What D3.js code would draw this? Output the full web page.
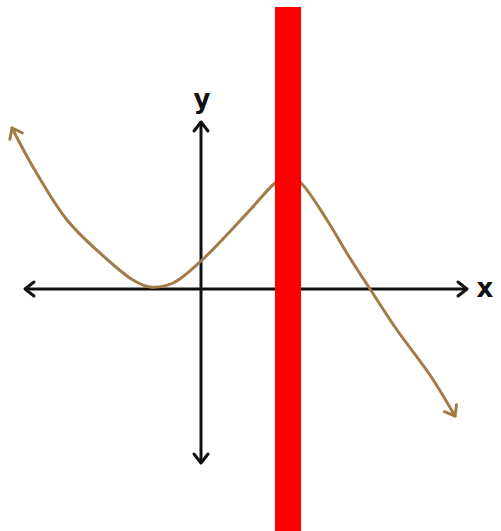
<!DOCTYPE html>
<html>
<head>
<meta charset="utf-8">
<script src="https://cdn.jsdelivr.net/npm/d3@7"></script>
<style>
html, body { margin: 0; padding: 0; background: #fff; }
</style>
</head>
<body>
<div id="canvas-body"></div>
<script>
// curve points (sketch units, origin at the axes crossing)
var curveX = [-3.78, -3.36, -2.68, -2.02, -1.36, -1.02, -0.56, 0, 0.98, 1.48, 1.74, 2.0, 2.52, 2.94, 3.38, 3.92, 4.58, 5.08];
var curveY = [3.22, 2.44, 1.38, 0.72, 0.18, 0.04, 0.12, 0.56, 1.58, 2.12, 2.28, 2.12, 1.38, 0.68, 0, -0.82, -1.72, -2.54];

// axis extents
var xAxisRange = [-3.52, 5.32];
var yAxisRange = [-3.48, 3.34];
var axisLabels = ["x", "y"];

// red band covering the peak
var band = [1.48, 2.0];

// size of svg image
const width = 501, height = 531;

var s = d3.select("#canvas-body")
            .append("svg")
            .attr("width", width)
            .attr("height", height);

// scale from sketch coordinates to svg coordinates
var gtosx = d3.scaleLinear().domain([-4, 6]).range([1, 501]);
var gtosy = d3.scaleLinear().domain([-4, 6]).range([489, -11]);

// arrow markers
var defs = s.append("defs");
function add_marker(id, color){
    defs.append("marker")
        .attr("id", id)
        .attr("viewBox", "-12 -10 16 20")
        .attr("markerWidth", 16)
        .attr("markerHeight", 20)
        .attr("markerUnits", "userSpaceOnUse")
        .attr("refX", 0)
        .attr("refY", 0)
        .attr("orient", "auto-start-reverse")
        .append("path")
        .attr("d", "M-9,-7 L0,0 L-9,7")
        .attr("fill", "none")
        .attr("stroke", color)
        .attr("stroke-width", 3)
        .attr("stroke-linecap", "round")
        .attr("stroke-linejoin", "round");
}
add_marker("arrow-black", "#111");
add_marker("arrow-brown", "#a27b47");

// x axis
s.append("line")
    .attr("x1", gtosx(xAxisRange[0])).attr("x2", gtosx(xAxisRange[1]))
    .attr("y1", gtosy(0)).attr("y2", gtosy(0))
    .attr("stroke", "#111")
    .attr("stroke-width", 3)
    .attr("marker-start", "url(#arrow-black)")
    .attr("marker-end", "url(#arrow-black)");

// y axis
s.append("line")
    .attr("x1", gtosx(0)).attr("x2", gtosx(0))
    .attr("y1", gtosy(yAxisRange[1])).attr("y2", gtosy(yAxisRange[0]))
    .attr("stroke", "#111")
    .attr("stroke-width", 3)
    .attr("marker-start", "url(#arrow-black)")
    .attr("marker-end", "url(#arrow-black)");

// axis labels
s.append("text")
    .attr("x", gtosx(xAxisRange[1]) + 18)
    .attr("y", gtosy(0))
    .attr("dy", "0.3em")
    .attr("text-anchor", "middle")
    .attr("font-family", "DejaVu Sans")
    .attr("font-weight", "bold")
    .attr("font-size", 26)
    .attr("fill", "#111")
    .text(axisLabels[0]);
s.append("text")
    .attr("x", gtosx(0) + 1)
    .attr("y", gtosy(yAxisRange[1]) - 22)
    .attr("dy", "0.3em")
    .attr("text-anchor", "middle")
    .attr("font-family", "DejaVu Sans")
    .attr("font-weight", "bold")
    .attr("font-size", 26)
    .attr("fill", "#111")
    .text(axisLabels[1]);

// the curve
var pts = curveX.map(function(x, i){ return [x, curveY[i]]; });
var linefunc = d3.line()
                .x(function(d){ return gtosx(d[0]); })
                .y(function(d){ return gtosy(d[1]); })
                .curve(d3.curveCatmullRom);
s.append("path")
    .attr("d", linefunc(pts))
    .attr("fill", "none")
    .attr("stroke", "#a27b47")
    .attr("stroke-width", 3)
    .attr("stroke-linecap", "round")
    .attr("marker-start", "url(#arrow-brown)")
    .attr("marker-end", "url(#arrow-brown)");

// red band
s.append("rect")
    .attr("x", gtosx(band[0]))
    .attr("y", 7)
    .attr("width", gtosx(band[1]) - gtosx(band[0]))
    .attr("height", height - 7)
    .attr("fill", "#ff0000");
</script>
</body>
</html>
